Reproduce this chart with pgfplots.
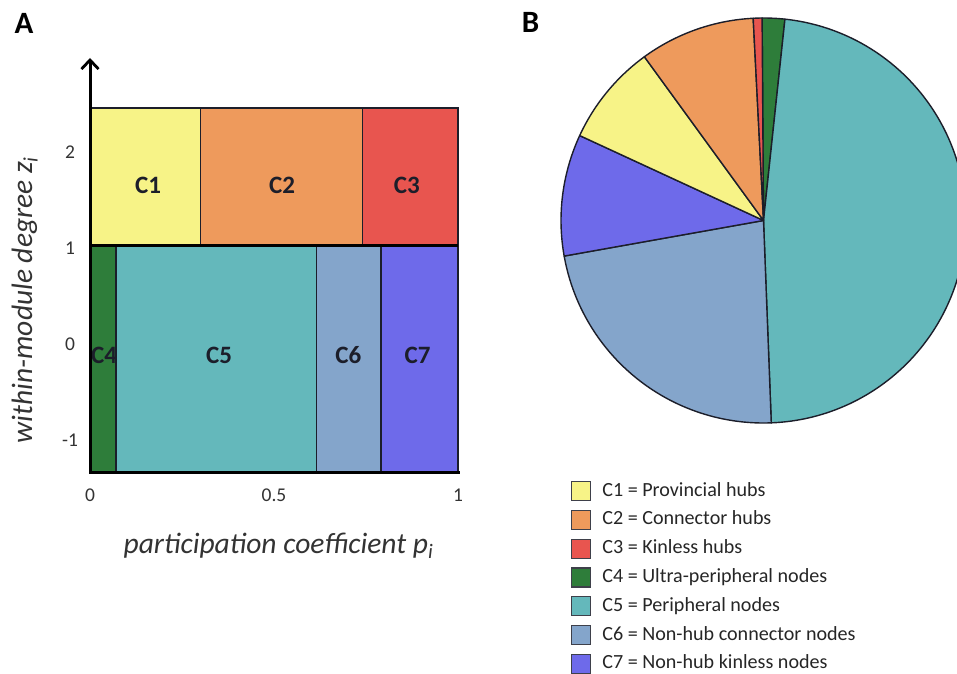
\documentclass[border=0pt]{standalone}
\usepackage{fontspec}
\setmainfont{Carlito}
\usepackage{pgfplots}
\pgfplotsset{compat=1.18}
\usepackage{pgfplotstable}
\usetikzlibrary{arrows.meta}

\definecolor{cOne}{HTML}{F7F387}
\definecolor{cTwo}{HTML}{EE9A5C}
\definecolor{cThree}{HTML}{E8554F}
\definecolor{cFour}{HTML}{2E7D3A}
\definecolor{cFive}{HTML}{64B8BB}
\definecolor{cSix}{HTML}{84A5CB}
\definecolor{cSeven}{HTML}{6E6AEA}
\definecolor{edge}{HTML}{1C1E2A}
\definecolor{lbl}{HTML}{333333}

% share of nodes in each role (percent), listed clockwise from the top
\pgfplotstableread{
role pct col
C4 1.8 cFour
C5 47.7 cFive
C6 22.8 cSix
C7 9.7 cSeven
C1 8.1 cOne
C2 9.2 cTwo
C3 0.7 cThree
}\rolesharetable

\begin{document}
\begin{tikzpicture}
\useasboundingbox (0pt,0pt) rectangle (957pt,673pt);

% ---------- A: role regions in the (p, z) plane ----------
\begin{axis}[
  at={(90pt,201pt)}, anchor=south west,
  scale only axis, width=368pt, height=414pt,
  xmin=0, xmax=1, ymin=-1.365, ymax=2.95,
  axis x line=bottom, axis y line=left,
  x axis line style={-, line width=3pt, line cap=rect},
  y axis line style={-{Straight Barb[length=9pt,width=17pt,line width=2.8pt]}, line width=3pt},
  xtick={0,0.5,1}, ytick={-1,0,1,2},
  major tick length=0pt,
  /pgf/number format/assume math mode=true,
  tick label style={font=\fontsize{19.5}{22}\selectfont, text=lbl},
  xticklabel style={anchor=center, yshift=-23pt},
  yticklabel style={anchor=center, xshift=-20pt, yshift=-3pt},
  axis on top, clip=false,
]
  \addplot[fill=cOne,   draw=edge, line width=1.6pt] coordinates {(0,1) (0.30,1) (0.30,2.43) (0,2.43)} -- cycle;
  \addplot[fill=cTwo,   draw=edge, line width=1.6pt] coordinates {(0.30,1) (0.74,1) (0.74,2.43) (0.30,2.43)} -- cycle;
  \addplot[fill=cThree, draw=edge, line width=1.6pt] coordinates {(0.74,1) (1,1) (1,2.43) (0.74,2.43)} -- cycle;
  \addplot[fill=cFour,  draw=edge, line width=1.6pt] coordinates {(0,-1.365) (0.07,-1.365) (0.07,1) (0,1)} -- cycle;
  \addplot[fill=cFive,  draw=edge, line width=1.6pt] coordinates {(0.07,-1.365) (0.615,-1.365) (0.615,1) (0.07,1)} -- cycle;
  \addplot[fill=cSix,   draw=edge, line width=1.6pt] coordinates {(0.615,-1.365) (0.79,-1.365) (0.79,1) (0.615,1)} -- cycle;
  \addplot[fill=cSeven, draw=edge, line width=1.6pt] coordinates {(0.79,-1.365) (1,-1.365) (1,1) (0.79,1)} -- cycle;
  % hub / non-hub threshold
  \addplot[draw=black, line width=3pt] coordinates {(0,1) (1,1)};

  \begin{scope}[every node/.style={font=\bfseries\fontsize{25}{30}\selectfont, text=edge}]
    \node at (axis cs:0.158,1.625)  {C1};
    \node at (axis cs:0.522,1.625)  {C2};
    \node at (axis cs:0.861,1.625)  {C3};
    \node at (axis cs:0.038,-0.146) {C4};
    \node at (axis cs:0.351,-0.146) {C5};
    \node at (axis cs:0.702,-0.146) {C6};
    \node at (axis cs:0.890,-0.146) {C7};
  \end{scope}
\end{axis}

\node[rotate=90, anchor=base, font=\itshape\fontsize{29.5}{34}\selectfont, text=lbl]
  at (32pt,373pt) {within-module degree z\textsubscript{i}};
\node[anchor=base, font=\itshape\fontsize{29.5}{34}\selectfont, text=lbl]
  at (278.5pt,120pt) {participation coefficient p\textsubscript{i}};

\node[font=\bfseries\fontsize{31}{36}\selectfont] at (24pt,650pt) {A};
\node[font=\bfseries\fontsize{31}{36}\selectfont] at (530.5pt,651pt) {B};

% ---------- B: share of nodes per role ----------
\begin{axis}[
  at={(763.5pt,452.5pt)}, anchor=center,
  scale only axis, width=405pt, height=405pt,
  xmin=-1, xmax=1, ymin=-1, ymax=1,
  hide axis, clip=false,
  legend cell align=left,
  legend image code/.code={\draw[#1, draw=edge!85, line width=1.3pt] (0pt,-9.5pt) rectangle (19pt,9.5pt);},
  legend style={at={(0.0247,-0.143)}, anchor=north west, draw=none, fill=none,
    inner sep=0pt, outer sep=0pt, row sep=8.5pt,
    font=\fontsize{20.1}{24}\selectfont, text=black!85,
    nodes={inner sep=0pt, text height=15pt, text depth=5pt},
    /tikz/every odd column/.append style={column sep=11pt}},
]
  \xdef\pieAngle{90.4}
  \pgfplotsinvokeforeach{0,...,6}{
    \pgfplotstablegetelem{#1}{pct}\of\rolesharetable
    \pgfmathsetmacro\pieEnd{\pieAngle-3.6*\pgfplotsretval}
    \pgfplotstablegetelem{#1}{col}\of\rolesharetable
    \edef\pieSlice{\noexpand\addplot[fill=\pgfplotsretval, draw=edge, line width=1.4pt,
      line join=round, forget plot, domain=\pieEnd:\pieAngle, samples=121,
      variable=\noexpand\t] ({cos(\noexpand\t)},{sin(\noexpand\t)}) -- (axis cs:0,0) -- cycle;}
    \pieSlice
    \xdef\pieAngle{\pieEnd}
  }
  \addlegendimage{fill=cOne}   \addlegendentry{C1 = Provincial hubs}
  \addlegendimage{fill=cTwo}   \addlegendentry{C2 = Connector hubs}
  \addlegendimage{fill=cThree} \addlegendentry{C3 = Kinless hubs}
  \addlegendimage{fill=cFour}  \addlegendentry{C4 = Ultra-peripheral nodes}
  \addlegendimage{fill=cFive}  \addlegendentry{C5 = Peripheral nodes}
  \addlegendimage{fill=cSix}   \addlegendentry{C6 = Non-hub connector nodes}
  \addlegendimage{fill=cSeven} \addlegendentry{C7 = Non-hub kinless nodes}
\end{axis}
\end{tikzpicture}
\end{document}
